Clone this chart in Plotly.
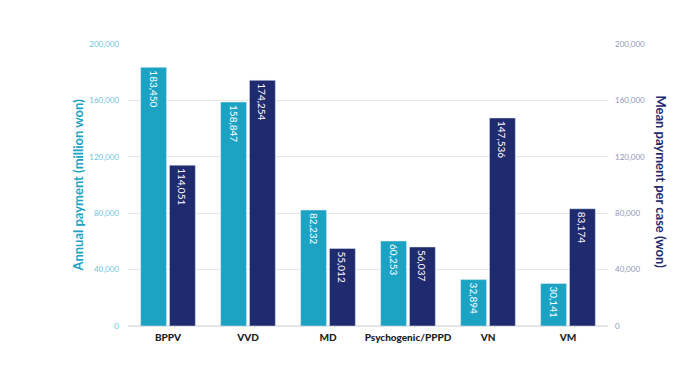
import plotly.graph_objects as go

categories = ["BPPV", "VVD", "MD", "Psychogenic/PPPD", "VN", "VM"]
annual_payment = [183450, 158847, 82232, 60253, 32894, 30141]
mean_payment = [114051, 174254, 55012, 56037, 147536, 83174]
tick_vals = [0, 40000, 80000, 120000, 160000, 200000]
tick_text = ["0", "40,000", "80,000", "120,000", "160,000", "200,000"]

teal = "#1CA3C4"
navy = "#1F2A6F"

fig = go.Figure()
fig.add_trace(go.Bar(
    x=categories, y=annual_payment, name="Annual payment",
    marker=dict(color=teal), offsetgroup=0, yaxis="y",
    text=[f"{v:,}" for v in annual_payment], textposition="inside",
    insidetextanchor="end", textangle=90,
    textfont=dict(color="white", size=10, family="Lato"),
))
fig.add_trace(go.Bar(
    x=categories, y=mean_payment, name="Mean payment",
    marker=dict(color=navy), offsetgroup=1, yaxis="y2",
    text=[f"{v:,}" for v in mean_payment], textposition="inside",
    insidetextanchor="end", textangle=90,
    textfont=dict(color="white", size=10, family="Lato"),
))

fig.update_layout(
    width=700, height=372,
    margin=dict(l=120, r=100, t=36, b=54),
    paper_bgcolor="white", plot_bgcolor="white",
    showlegend=False,
    barmode="group", bargap=0.28, bargroupgap=0.1,
    font=dict(family="Lato"),
    xaxis=dict(
        tickfont=dict(size=10, color="#222222", family="Lato Black, Lato"),
        showline=False, ticks="", ticklabelstandoff=4,
    ),
    yaxis=dict(
        range=[0, 200000], tickvals=tick_vals, ticktext=tick_text,
        tickfont=dict(size=8, color="#6CC4DC"),
        showgrid=True, gridcolor="#E6E6E6", gridwidth=1,
        zeroline=True, zerolinecolor="#E6E6E6",
        ticks="", ticklabelstandoff=8,
    ),
    yaxis2=dict(
        range=[0, 200000], tickvals=tick_vals, ticktext=tick_text,
        tickfont=dict(size=8, color="#9096B8"),
        overlaying="y", side="right", showgrid=False, zeroline=False,
        ticks="", ticklabelstandoff=6,
    ),
    annotations=[
        dict(text="<b>Annual payment (million won)</b>", xref="paper", yref="paper",
             x=-0.105, y=0.5, xanchor="center", yanchor="middle", textangle=-90,
             showarrow=False, font=dict(size=13, color=teal, family="Lato")),
        dict(text="<b>Mean payment per case (won)</b>", xref="paper", yref="paper",
             x=1.11, y=0.51, xanchor="center", yanchor="middle", textangle=90,
             showarrow=False, font=dict(size=13, color=navy, family="Lato")),
    ],
)

fig.write_html("out.html")
